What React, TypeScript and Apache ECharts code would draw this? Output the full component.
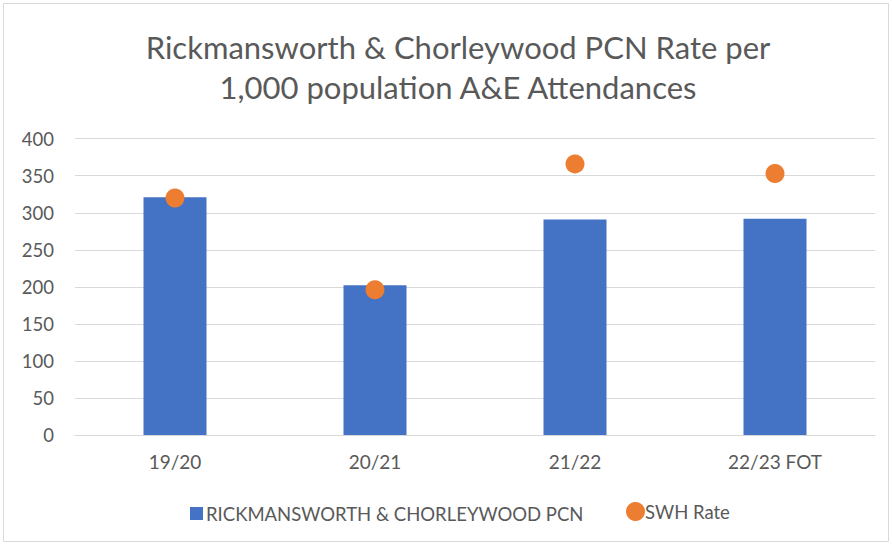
import React, { useEffect, useRef } from "react";
import * as echarts from "echarts";

const categories = ["19/20", "20/21", "21/22", "22/23 FOT"];
const pcnValues = [321, 202, 291, 292];
const swhValues = [320, 196, 366, 353];
const titleLines = ["Rickmansworth & Chorleywood PCN Rate per", "1,000 population A&E Attendances"];
const seriesNames = ["RICKMANSWORTH & CHORLEYWOOD PCN", "SWH Rate"];

export default function App() {
  const ref = useRef<HTMLDivElement>(null);
  useEffect(() => {
    const chart = echarts.init(ref.current!, undefined, { renderer: "svg" });
    const font = "Lato, 'Noto Sans', sans-serif";
    chart.setOption({
      animation: false,
      backgroundColor: "#ffffff",
      textStyle: { fontFamily: font },
      title: {
        text: titleLines.join("\n"),
        left: 453,
        top: 22,
        textAlign: "center",
        textStyle: { fontFamily: font, fontSize: 31, fontWeight: "normal", color: "#595959", lineHeight: 40 },
      },
      graphic: [
        {
          type: "rect",
          shape: { x: 3.5, y: 3.5, width: 885, height: 538 },
          style: { fill: "none", stroke: "#d9d9d9", lineWidth: 1 },
          silent: true,
        },
      ],
      legend: [
        {
          top: 499,
          left: 185,
          itemWidth: 13,
          itemHeight: 13,
          textStyle: { fontFamily: font, fontSize: 18.5, color: "#595959", padding: [0, 0, 0, -2] },
          data: [{ name: seriesNames[0], icon: "rect" }],
        },
        {
          top: 497,
          left: 621,
          itemWidth: 19,
          itemHeight: 19,
          textStyle: { fontFamily: font, fontSize: 18.5, color: "#595959", padding: [0, 0, 0, -5] },
          data: [{ name: seriesNames[1], icon: "circle" }],
        },
      ],
      grid: { left: 75, right: 17, top: 138.7, bottom: 110, containLabel: false },
      xAxis: {
        type: "category",
        data: categories,
        axisLine: { lineStyle: { color: "#d9d9d9", width: 1 } },
        axisTick: { show: false },
        axisLabel: { fontFamily: font, fontSize: 19, color: "#595959", margin: 17 },
      },
      yAxis: {
        type: "value",
        min: 0,
        max: 400,
        interval: 50,
        axisLine: { show: false },
        axisTick: { show: false },
        splitLine: { lineStyle: { color: "#d9d9d9", width: 1 } },
        axisLabel: { fontFamily: font, fontSize: 18.5, color: "#595959", margin: 21 },
      },
      series: [
        {
          name: seriesNames[0],
          type: "bar",
          data: pcnValues,
          barWidth: 63,
          itemStyle: { color: "#4472c4" },
        },
        {
          name: seriesNames[1],
          type: "scatter",
          data: swhValues,
          symbol: "circle",
          symbolSize: 19,
          itemStyle: { color: "#ed7d31", opacity: 1 },
        },
      ],
    });
    return () => chart.dispose();
  }, []);
  return (
    <div
      ref={ref}
      style={{ position: "absolute", left: 0, top: 0, width: 892, height: 545 }}
    />
  );
}
